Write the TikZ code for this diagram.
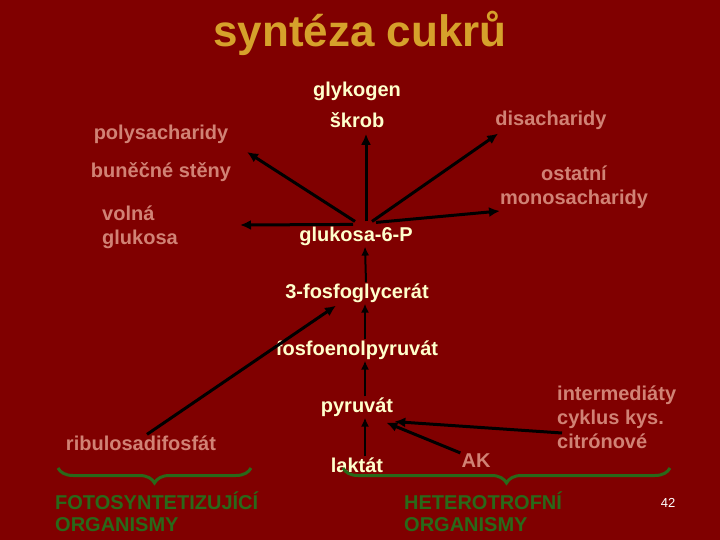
\documentclass[tikz,border=0pt]{standalone}
\usepackage{fontspec}
\setmainfont{Liberation Sans}
\usetikzlibrary{arrows.meta,decorations.pathreplacing}
\definecolor{cBg}{rgb}{0.5,0,0}
\definecolor{cT}{rgb}{0.84,0.63,0.17}
\definecolor{cP}{rgb}{0.82,0.51,0.46}
\definecolor{cY}{rgb}{1,1,0.8}
\definecolor{cG}{rgb}{0.16,0.41,0.1}
\tikzset{mylabel/.style={
  text=cP,
  font=\bfseries\fontsize{20}{24}\selectfont,
  inner sep=1pt,
  }
}
\tikzset{mylabel2/.style={
  text=cY,
  font=\bfseries\fontsize{20}{24}\selectfont,
  inner sep=1pt,
  }
}
\tikzset{mygroup/.style={
  text=cG,
  font=\bfseries\fontsize{20}{22}\selectfont,
  align=left,
  inner sep=0pt,
  }
}
\tikzset{myarrow/.style={
  draw=black,
  line width=3pt,
  -{Latex[length=11pt,width=10pt]},
  }
}
\tikzset{myarrow2/.style={
  draw=black,
  line width=2pt,
  -{Latex[length=9pt,width=8pt]},
  }
}
\tikzset{mybrace/.style={
  draw=cG,
  line width=3pt,
  decorate,
  decoration={brace,mirror,amplitude=15pt},
  }
}

\begin{document}
\begin{tikzpicture}[x=1pt,y=-1pt]
  \fill[cBg] (0,0) rectangle (720,540);
  \useasboundingbox (0,0) rectangle (720,540);
  \node[text=cT, font=\bfseries\fontsize{44}{48}\selectfont] (h1) at (360,33) {syntéza cukrů};

  % main line
  \node[mylabel2] (c1) at (356,236) {glukosa-6-P};
  \node[mylabel2] (c2) at (357,293) {3-fosfoglycerát};
  \node[mylabel2] (c3) at (357,350) {fosfoenolpyruvát};
  \node[mylabel2] (c4) at (357,407) {pyruvát};
  \node[mylabel2] (c5) at (357,465) {laktát};
  \node[mylabel2] (t1) at (357,91) {glykogen};
  \node[mylabel2] (t2) at (357,120) {škrob};

  % products
  \node[mylabel] (t3) at (161,134) {polysacharidy};
  \node[mylabel] (t4) at (161,172) {buněčné stěny};
  \node[mylabel] (t5) at (551,120) {disacharidy};
  \node[mylabel, align=center] (t6) at (574,187) {ostatní\\monosacharidy};
  \node[mylabel, align=left, anchor=west] (t7) at (101,227) {volná\\glukosa};

  % sources
  \node[mylabel] (s1) at (141,443) {ribulosadifosfát};
  \node[mylabel, align=left, anchor=west] (s2) at (556,417) {intermediáty\\cyklus kys.\\citrónové};
  \node[mylabel] (s3) at (476,461) {AK};

  \coordinate (a1) at (247,152);
  \coordinate (a2) at (500,211);
  \coordinate (a3) at (240,225);
  \draw[myarrow] ([xshift=-1pt,yshift=4pt]c1.north) -- (a1);
  \draw[myarrow] ([xshift=10pt,yshift=4pt]c1.north) -- ([xshift=9pt,yshift=-5pt]t2.south);
  \draw[myarrow] ([xshift=16pt,yshift=4pt]c1.north) -- ([xshift=4pt,yshift=-3pt]t5.south west);
  \draw[myarrow] ([xshift=20pt,yshift=3pt]c1.north) -- (a2);
  \draw[myarrow] ([xshift=-3pt,yshift=1pt]c1.north) -- (a3);

  \draw[myarrow2] ([xshift=9pt]c2.north) -- ([xshift=9pt]c1.south);
  \draw[myarrow2] ([xshift=8pt]c3.north) -- ([xshift=8pt]c2.south);
  \draw[myarrow2] ([xshift=8pt]c4.north) -- ([xshift=8pt]c3.south);
  \draw[myarrow2] ([xshift=8pt]c5.north) -- ([xshift=8pt]c4.south);

  \draw[myarrow] ([xshift=6pt]s1.north) -- ([xshift=-21pt,yshift=-2pt]c2.south);
  \draw[myarrow] ([xshift=6pt,yshift=-16pt]s2.west) -- ([yshift=-4pt]c4.south east);
  \draw[myarrow] (s3.north west) -- ([xshift=-8pt,yshift=-5pt]c4.south east);

  % organisms
  \coordinate (b1) at (58,468);
  \coordinate (b2) at (251,468);
  \coordinate (b3) at (343,468);
  \coordinate (b4) at (670,468);
  \draw[mybrace] (b1) -- (b2);
  \draw[mybrace] (b3) -- (b4);
  \node[mygroup, anchor=north west] (g1) at (55,491.5) {FOTOSYNTETIZUJÍCÍ\\ORGANISMY};
  \node[mygroup, anchor=north west] (g2) at (404,491.5) {HETEROTROFNÍ\\ORGANISMY};
  \node[text=white, font=\fontsize{13}{15}\selectfont] (n1) at (668,503) {42};
\end{tikzpicture}
\end{document}
